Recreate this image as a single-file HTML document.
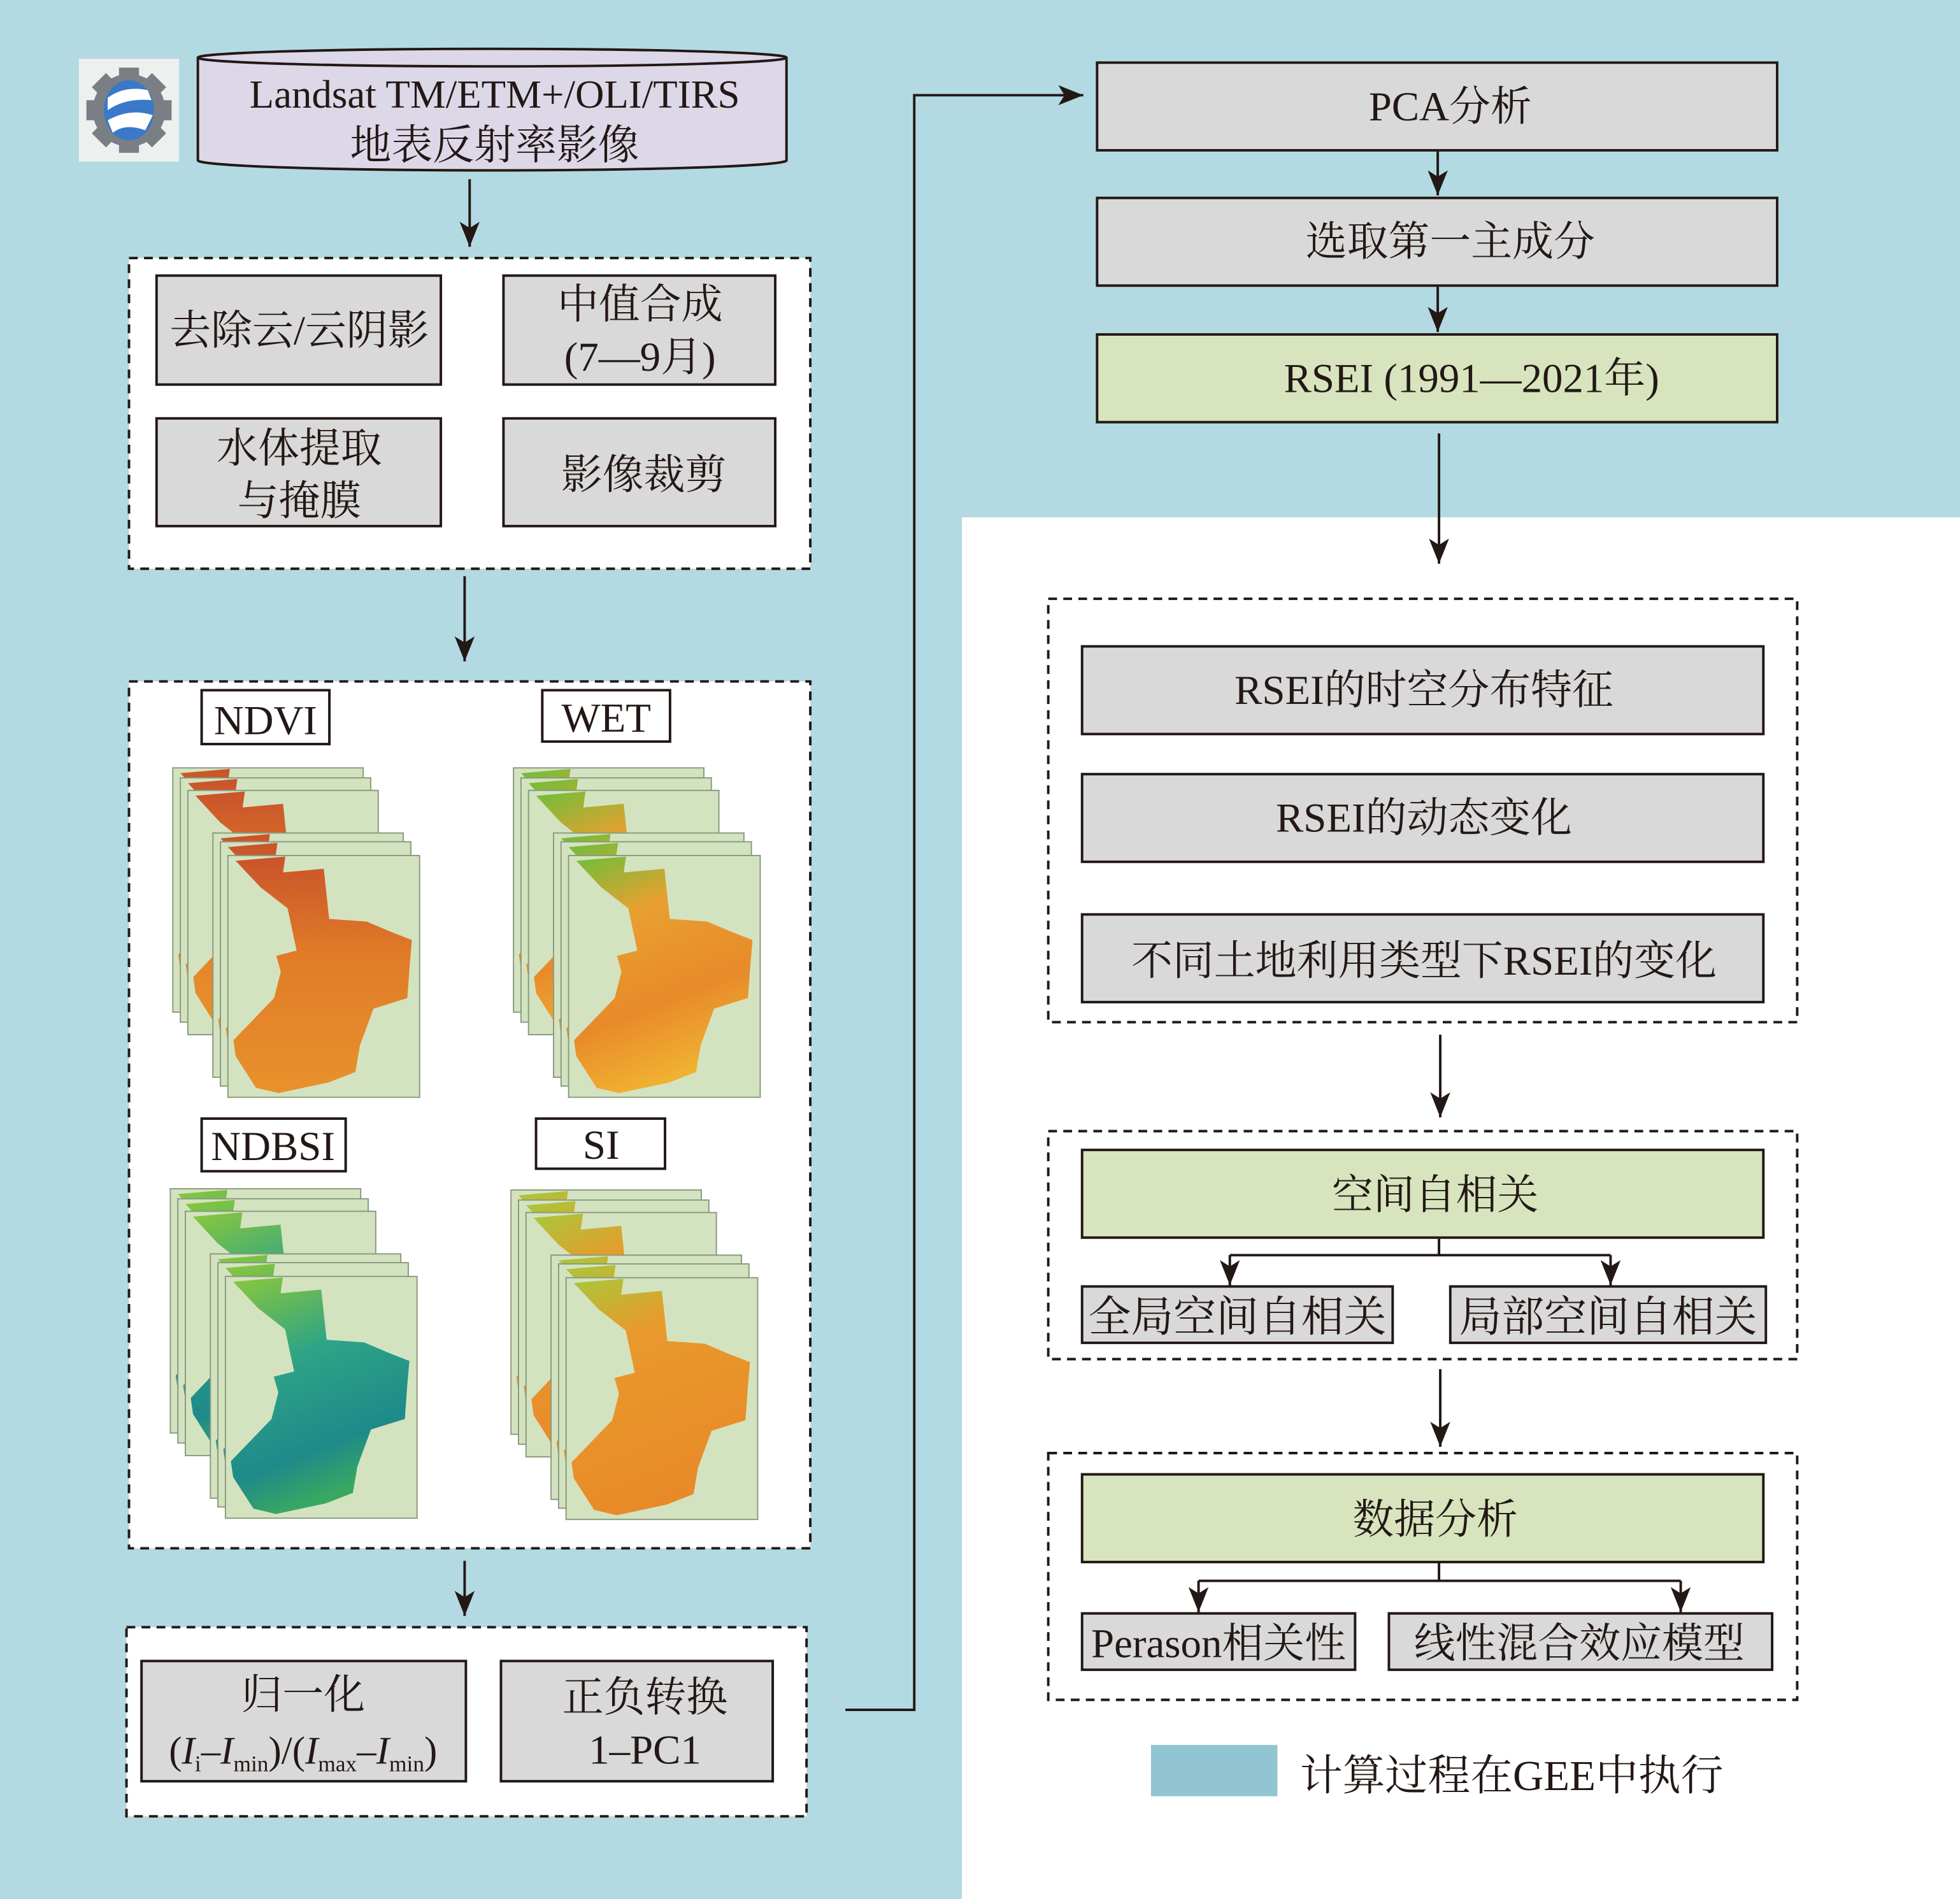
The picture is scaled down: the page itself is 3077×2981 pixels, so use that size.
<!DOCTYPE html>
<html><head><meta charset="utf-8"><style>
html,body{margin:0;padding:0;background:#fff}
svg{display:block}
text{font-family:"Liberation Serif","Noto Serif CJK SC",serif;fill:#231815}
.b{fill:#d9d9d9;stroke:#231815;stroke-width:2}
.g{fill:#d7e4bd;stroke:#231815;stroke-width:2}
.d{fill:#fff;stroke:#231815;stroke-width:2;stroke-dasharray:7,5}
.l{stroke:#231815;stroke-width:2;fill:none}
.r{fill:#d4e3bf;stroke:#8a9a80;stroke-width:1}
</style></head><body>
<svg width="3077" height="2981" viewBox="0 0 1565 1516" preserveAspectRatio="none" xmlns="http://www.w3.org/2000/svg">
<defs>
<marker id="A" markerWidth="22" markerHeight="20" refX="20" refY="8" orient="auto" markerUnits="userSpaceOnUse">
<path d="M0,0 L20,8 L0,16 L5,8 Z" fill="#231815"/></marker>
<linearGradient id="gN" x1="0" y1="0" x2="0" y2="1"><stop offset="0" stop-color="#c9542a"/><stop offset="0.4" stop-color="#e07a28"/><stop offset="1" stop-color="#e8922c"/></linearGradient>
<linearGradient id="gW" x1="0" y1="0" x2="0.3" y2="1"><stop offset="0" stop-color="#6cbf3a"/><stop offset="0.3" stop-color="#e8a030"/><stop offset="0.7" stop-color="#e88a2a"/><stop offset="1" stop-color="#f0b030"/></linearGradient>
<linearGradient id="gB" x1="0" y1="0" x2="0.3" y2="1"><stop offset="0" stop-color="#8cc83a"/><stop offset="0.4" stop-color="#2ea486"/><stop offset="0.8" stop-color="#1e8a8a"/><stop offset="1" stop-color="#3aa860"/></linearGradient>
<linearGradient id="gS" x1="0" y1="0" x2="0.3" y2="1"><stop offset="0" stop-color="#a8c83a"/><stop offset="0.3" stop-color="#e89a2c"/><stop offset="1" stop-color="#e88a28"/></linearGradient>
<symbol id="shape" viewBox="228 230 424 458" preserveAspectRatio="none">
<polygon points="245,240 355,232 350,262 440,255 452,350 535,355 590,375 635,390 630,440 625,500 550,520 520,590 510,640 450,660 340,680 290,670 245,610 240,580 330,500 345,450 335,420 380,410 360,330 300,290"/>
</symbol>
</defs>
<rect x="0" y="0" width="1565" height="1516" fill="#fff"/>
<rect x="0" y="0" width="768" height="1516" fill="#b3dae2"/>
<rect x="768" y="0" width="797" height="413" fill="#b3dae2"/>

<!-- icon -->
<rect x="63" y="47" width="80" height="82" fill="#eef0f0"/>
<g fill="#7a7f85">
<rect x="95" y="54" width="16" height="68"/>
<rect x="69" y="80" width="68" height="16"/>
<rect x="95" y="54" width="16" height="68" transform="rotate(45 103 88)"/>
<rect x="95" y="54" width="16" height="68" transform="rotate(-45 103 88)"/>
<circle cx="103" cy="88" r="29"/>
</g>
<ellipse cx="103" cy="88" rx="20" ry="24" fill="#3a78c8"/>
<path d="M86,78 Q100,68 118,72 L121,80 Q100,78 86,88 Z M86,96 Q104,86 122,92 L116,104 Q100,98 90,106 Z" fill="#fff"/>

<!-- cylinder -->
<path d="M158,46 L158,128 A235,8 0 0 0 628,128 L628,46" fill="#ddd8e8" stroke="#231815" stroke-width="2"/>
<ellipse cx="393" cy="46" rx="235" ry="7" fill="#ddd8e8" stroke="#231815" stroke-width="2"/>
<text x="395" y="86" font-size="32" text-anchor="middle">Landsat TM/ETM+/OLI/TIRS</text>
<text x="395" y="127" font-size="33" text-anchor="middle">地表反射率影像</text>
<line class="l" x1="375" y1="143" x2="375" y2="197" marker-end="url(#A)"/>

<rect class="d" x="103" y="206" width="544" height="248"/>
<rect class="b" x="125" y="220" width="227" height="87"/>
<rect class="b" x="402" y="220" width="217" height="87"/>
<rect class="b" x="125" y="334" width="227" height="86"/>
<rect class="b" x="402" y="334" width="217" height="86"/>
<g font-size="33" text-anchor="middle">
<text x="239" y="275">去除云/云阴影</text>
<text x="511" y="254">中值合成</text>
<text x="511" y="296">(7—9月)</text>
<text x="239" y="369">水体提取</text>
<text x="239" y="411">与掩膜</text>
<text x="514" y="390">影像裁剪</text>
</g>
<line class="l" x1="371" y1="460" x2="371" y2="528" marker-end="url(#A)"/>

<rect class="d" x="103" y="544" width="544" height="692"/>
<g fill="#fff" stroke="#231815" stroke-width="2">
<rect x="161" y="551" width="102" height="43"/><rect x="433" y="551" width="102" height="41"/>
<rect x="161" y="893" width="115" height="42"/><rect x="428" y="893" width="103" height="40"/>
</g>
<g font-size="33" text-anchor="middle">
<text x="212" y="586">NDVI</text><text x="484" y="584">WET</text>
<text x="218" y="926">NDBSI</text><text x="480" y="925">SI</text>
</g>
<!-- map stacks -->
<g transform="translate(138,613)" fill="url(#gN)">
<rect class="r" x="0" y="0" width="152" height="195"/><use href="#shape" x="0" y="0" width="152" height="195"/>
<rect class="r" x="6" y="8" width="152" height="195"/><use href="#shape" x="6" y="8" width="152" height="195"/>
<rect class="r" x="12" y="18" width="152" height="195"/><use href="#shape" x="12" y="18" width="152" height="195"/>
<rect class="r" x="32" y="52" width="152" height="195"/><use href="#shape" x="32" y="52" width="152" height="195"/>
<rect class="r" x="38" y="59" width="152" height="195"/><use href="#shape" x="38" y="59" width="152" height="195"/>
<rect class="r" x="44" y="70" width="153" height="193"/><use href="#shape" x="44" y="70" width="153" height="193"/>
</g>
<g transform="translate(410,613)" fill="url(#gW)">
<rect class="r" x="0" y="0" width="152" height="195"/><use href="#shape" x="0" y="0" width="152" height="195"/>
<rect class="r" x="6" y="8" width="152" height="195"/><use href="#shape" x="6" y="8" width="152" height="195"/>
<rect class="r" x="12" y="18" width="152" height="195"/><use href="#shape" x="12" y="18" width="152" height="195"/>
<rect class="r" x="32" y="52" width="152" height="195"/><use href="#shape" x="32" y="52" width="152" height="195"/>
<rect class="r" x="38" y="59" width="152" height="195"/><use href="#shape" x="38" y="59" width="152" height="195"/>
<rect class="r" x="44" y="70" width="153" height="193"/><use href="#shape" x="44" y="70" width="153" height="193"/>
</g>
<g transform="translate(136,949)" fill="url(#gB)">
<rect class="r" x="0" y="0" width="152" height="195"/><use href="#shape" x="0" y="0" width="152" height="195"/>
<rect class="r" x="6" y="8" width="152" height="195"/><use href="#shape" x="6" y="8" width="152" height="195"/>
<rect class="r" x="12" y="18" width="152" height="195"/><use href="#shape" x="12" y="18" width="152" height="195"/>
<rect class="r" x="32" y="52" width="152" height="195"/><use href="#shape" x="32" y="52" width="152" height="195"/>
<rect class="r" x="38" y="59" width="152" height="195"/><use href="#shape" x="38" y="59" width="152" height="195"/>
<rect class="r" x="44" y="70" width="153" height="193"/><use href="#shape" x="44" y="70" width="153" height="193"/>
</g>
<g transform="translate(408,950)" fill="url(#gS)">
<rect class="r" x="0" y="0" width="152" height="195"/><use href="#shape" x="0" y="0" width="152" height="195"/>
<rect class="r" x="6" y="8" width="152" height="195"/><use href="#shape" x="6" y="8" width="152" height="195"/>
<rect class="r" x="12" y="18" width="152" height="195"/><use href="#shape" x="12" y="18" width="152" height="195"/>
<rect class="r" x="32" y="52" width="152" height="195"/><use href="#shape" x="32" y="52" width="152" height="195"/>
<rect class="r" x="38" y="59" width="152" height="195"/><use href="#shape" x="38" y="59" width="152" height="195"/>
<rect class="r" x="44" y="70" width="153" height="193"/><use href="#shape" x="44" y="70" width="153" height="193"/>
</g>

<line class="l" x1="371" y1="1246" x2="371" y2="1290" marker-end="url(#A)"/>
<rect class="d" x="101" y="1299" width="543" height="151"/>
<rect class="b" x="113" y="1326" width="259" height="96"/>
<rect class="b" x="400" y="1326" width="217" height="96"/>
<g font-size="33" text-anchor="middle">
<text x="242" y="1364">归一化</text>
<text x="515" y="1366">正负转换</text>
<text x="515" y="1408">1–PC1</text>
</g>
<text x="242" y="1408" font-size="31" text-anchor="middle">(<tspan font-style="italic">I</tspan><tspan font-size="18" dy="6">i</tspan><tspan dy="-6">–</tspan><tspan font-style="italic">I</tspan><tspan font-size="18" dy="6">min</tspan><tspan dy="-6">)/(</tspan><tspan font-style="italic">I</tspan><tspan font-size="18" dy="6">max</tspan><tspan dy="-6">–</tspan><tspan font-style="italic">I</tspan><tspan font-size="18" dy="6">min</tspan><tspan dy="-6">)</tspan></text>

<polyline class="l" points="675,1365 730,1365 730,76 865,76" marker-end="url(#A)"/>

<rect class="b" x="876" y="50" width="543" height="70"/>
<rect class="b" x="876" y="158" width="543" height="70"/>
<rect class="g" x="876" y="267" width="543" height="70"/>
<g font-size="33" text-anchor="middle">
<text x="1158" y="96">PCA分析</text>
<text x="1158" y="204">选取第一主成分</text>
<text x="1175" y="313">RSEI (1991—2021年)</text>
</g>
<line class="l" x1="1148" y1="121" x2="1148" y2="156" marker-end="url(#A)"/>
<line class="l" x1="1148" y1="229" x2="1148" y2="265" marker-end="url(#A)"/>
<line class="l" x1="1149" y1="346" x2="1149" y2="450" marker-end="url(#A)"/>

<rect class="d" x="837" y="478" width="598" height="338"/>
<rect class="b" x="864" y="516" width="544" height="70"/>
<rect class="b" x="864" y="618" width="544" height="70"/>
<rect class="b" x="864" y="730" width="544" height="70"/>
<g font-size="33" text-anchor="middle">
<text x="1137" y="562">RSEI的时空分布特征</text>
<text x="1137" y="664">RSEI的动态变化</text>
<text x="1137" y="778">不同土地利用类型下RSEI的变化</text>
</g>
<line class="l" x1="1150" y1="826" x2="1150" y2="892" marker-end="url(#A)"/>

<rect class="d" x="837" y="903" width="598" height="182"/>
<rect class="g" x="864" y="918" width="544" height="70"/>
<text x="1146" y="965" font-size="33" text-anchor="middle">空间自相关</text>
<polyline class="l" points="1149,989 1149,1002"/>
<polyline class="l" points="982,1002 1286,1002"/>
<line class="l" x1="982" y1="1002" x2="982" y2="1026" marker-end="url(#A)"/>
<line class="l" x1="1286" y1="1002" x2="1286" y2="1026" marker-end="url(#A)"/>
<rect class="b" x="864" y="1027" width="248" height="45"/>
<rect class="b" x="1158" y="1027" width="252" height="45"/>
<g font-size="34" text-anchor="middle">
<text x="988" y="1063">全局空间自相关</text>
<text x="1284" y="1063">局部空间自相关</text>
</g>
<line class="l" x1="1150" y1="1093" x2="1150" y2="1155" marker-end="url(#A)"/>

<rect class="d" x="837" y="1160" width="598" height="197"/>
<rect class="g" x="864" y="1177" width="544" height="70"/>
<text x="1146" y="1224" font-size="33" text-anchor="middle">数据分析</text>
<polyline class="l" points="1149,1248 1149,1262"/>
<polyline class="l" points="957,1262 1342,1262"/>
<line class="l" x1="957" y1="1262" x2="957" y2="1287" marker-end="url(#A)"/>
<line class="l" x1="1342" y1="1262" x2="1342" y2="1287" marker-end="url(#A)"/>
<rect class="b" x="864" y="1288" width="218" height="45"/>
<rect class="b" x="1109" y="1288" width="306" height="45"/>
<g font-size="33" text-anchor="middle">
<text x="973" y="1323">Perason相关性</text>
<text x="1261" y="1323">线性混合效应模型</text>
</g>

<rect x="919" y="1393" width="101" height="41" fill="#92c5d2"/>
<text x="1038" y="1429" font-size="34">计算过程在GEE中执行</text>
</svg>
</body></html>
